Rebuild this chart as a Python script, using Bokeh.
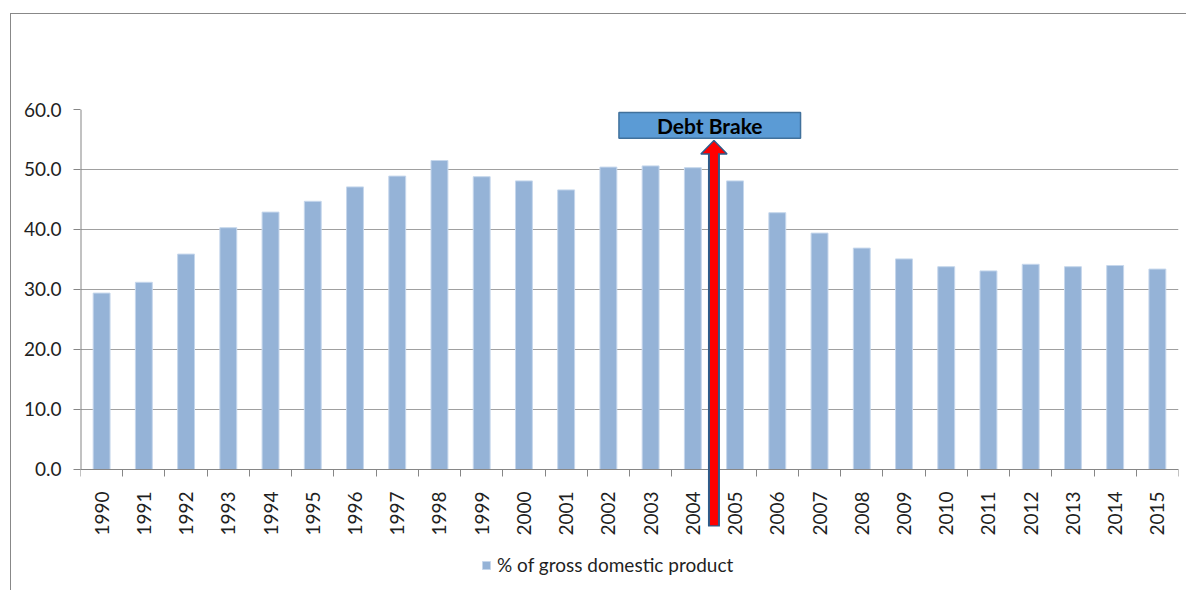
import math
from bokeh.plotting import figure
from bokeh.models import (FixedTicker, PrintfTickFormatter, Arrow, Label, Legend,
                          LegendItem, ColumnDataSource, Range1d)
from bokeh.embed import file_html
from bokeh.resources import INLINE

# ---- data ----
years = [1990, 1991, 1992, 1993, 1994, 1995, 1996, 1997, 1998, 1999, 2000, 2001, 2002,
         2003, 2004, 2005, 2006, 2007, 2008, 2009, 2010, 2011, 2012, 2013, 2014, 2015]
debt_pct_gdp = [29.4, 31.2, 35.9, 40.3, 42.9, 44.7, 47.1, 48.9, 51.5, 48.8, 48.1, 46.6, 50.4,
                50.6, 50.3, 48.1, 42.8, 39.4, 36.9, 35.1, 33.8, 33.1, 34.2, 33.8, 34.0, 33.4]
y_ticks = [0, 10, 20, 30, 40, 50, 60]
series_name = "% of gross domestic product"
annotation_text = "Debt Brake"
debt_brake_year = 2004.5   # introduced between 2004 and 2005

FONT = "Lato"
TXT = "#1f1f1f"
AXIS = "#868686"

Y_MAX = 60
Y_LOW = -20.17   # frame extends below zero so the arrow can reach into the label area

src = ColumnDataSource(dict(x=years, top=debt_pct_gdp))

p = figure(frame_width=1098, frame_height=481, output_backend="svg", toolbar_location=None,
           x_range=Range1d(years[0] - 0.5, years[-1] + 0.5), y_range=Range1d(Y_LOW, Y_MAX),
           min_border_left=69, min_border_right=8, min_border_top=95, min_border_bottom=0)
p.margin = (13, 0, 0, 10)
p.styles = {"border-top": "1px solid #888888", "border-left": "1px solid #888888"}
p.outline_line_color = None
p.background_fill_color = "white"
p.border_fill_color = "white"

bars = p.vbar(x="x", top="top", width=0.4, source=src, fill_color="#95B3D7",
              line_color="#C6D7EC", line_width=1)

# y axis (its line is drawn only from 0 to 60)
p.yaxis.ticker = FixedTicker(ticks=y_ticks)
p.yaxis.formatter = PrintfTickFormatter(format="%.1f")
p.yaxis.axis_line_color = None
p.yaxis.major_tick_line_color = AXIS
p.yaxis.major_tick_out = 7
p.yaxis.major_tick_in = 0
p.yaxis.minor_tick_line_color = None
p.yaxis.major_label_standoff = 12
p.yaxis.major_label_text_font = FONT
p.yaxis.major_label_text_font_size = "19px"
p.yaxis.major_label_text_color = TXT
p.segment(x0=[years[0] - 0.5], y0=[0], x1=[years[0] - 0.5], y1=[Y_MAX],
          line_color=AXIS, line_width=2)

# x axis placed at y = 0
p.xaxis.fixed_location = 0
p.xaxis.ticker = FixedTicker(ticks=years, minor_ticks=[y - 0.5 for y in years] + [years[-1] + 0.5])
p.xaxis.major_label_orientation = math.pi / 2
p.xaxis.axis_line_color = AXIS
p.xaxis.major_tick_out = 0
p.xaxis.major_tick_in = 0
p.xaxis.minor_tick_line_color = AXIS
p.xaxis.minor_tick_out = 7
p.xaxis.minor_tick_in = 0
p.xaxis.major_label_standoff = 15
p.xaxis.major_label_text_font = FONT
p.xaxis.major_label_text_font_size = "19px"
p.xaxis.major_label_text_color = TXT

p.xgrid.visible = False
p.ygrid.grid_line_color = "#A0A0A0"
p.ygrid.grid_line_width = 1

# Debt brake box + label
p.quad(left=[2002.25], right=[2006.55], bottom=[55.2], top=[59.5],
       fill_color="#5B9BD5", line_color="#41719C", line_width=1.5)
p.add_layout(Label(x=2004.4, y=57.3, text=annotation_text, text_align="center",
                   text_baseline="middle", text_font=FONT, text_font_style="bold",
                   text_font_size="21px", text_color="black"))

# Arrow
p.add_layout(Arrow(end=None, x_start=debt_brake_year, y_start=-9.5, x_end=debt_brake_year,
                   y_end=52.6, line_color="#2E5C8A", line_width=12))
p.add_layout(Arrow(end=None, x_start=debt_brake_year, y_start=-9.3, x_end=debt_brake_year,
                   y_end=52.8, line_color="#FF0000", line_width=8))
p.patch(x=[debt_brake_year - 0.31, debt_brake_year, debt_brake_year + 0.31],
        y=[52.6, 54.85, 52.6], fill_color="#FF0000", line_color="#2E5C8A", line_width=1.5)

legend = Legend(items=[LegendItem(label=series_name, renderers=[bars])],
                location=(401, 14), orientation="horizontal",
                label_text_font=FONT, label_text_font_size="19px", label_text_color=TXT,
                border_line_color=None, background_fill_alpha=0, padding=5,
                glyph_width=10, glyph_height=10, label_standoff=6)
p.add_layout(legend)

open("out.html", "w").write(file_html(p, INLINE))
